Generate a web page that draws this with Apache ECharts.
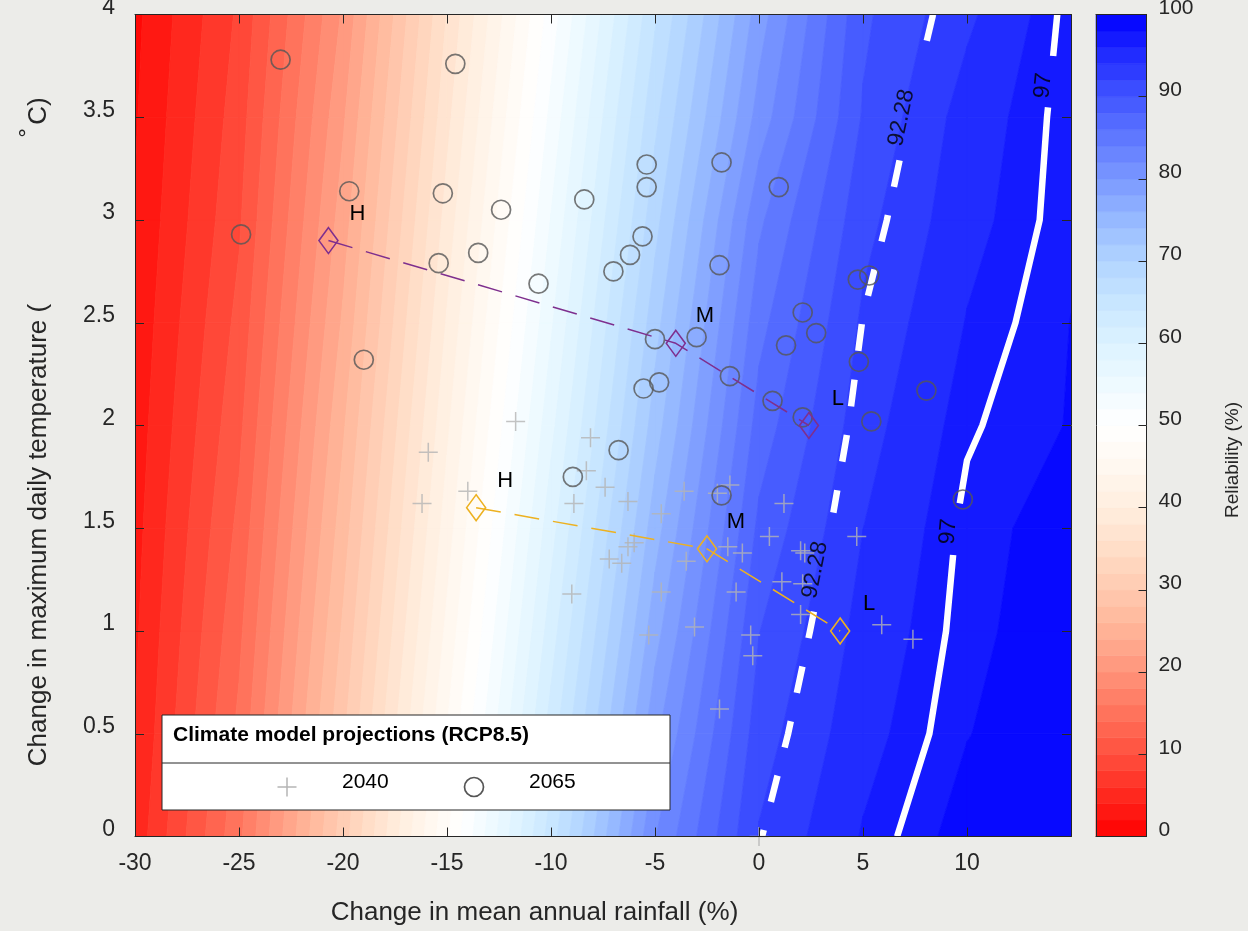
<!DOCTYPE html>
<html>
<head>
<meta charset="utf-8">
<script src="https://cdn.jsdelivr.net/npm/echarts@6/dist/echarts.min.js"></script>
<style>
html, body { margin: 0; padding: 0; background: #ecece9; }
#chart { width: 1248px; height: 931px; }
</style>
</head>
<body>
<div id="chart"></div>
<script>
// ---- reliability surface -------------------------------------------------
// change in mean annual rainfall (%) at the grid columns
const rainfallGrid = [-30, -25, -20, -15, -10, -5, 0, 5, 10, 15];
// change in maximum daily temperature (°C) at the grid rows
const temperatureGrid = [0, 0.5, 1, 1.5, 2, 2.5, 3, 3.5, 4];
// reliability (%) — one row per temperature step, one column per rainfall step
const reliabilityGrid = [
  [4.70, 15.5, 31.0, 47.7, 65.0, 81.9, 92.16, 96.16, 98.72, 99.50],
  [4.05, 14.5, 29.6, 46.1, 62.9, 79.5, 91.09, 95.34, 97.94, 99.20],
  [3.65, 13.5, 28.3, 44.5, 61.0, 77.2, 89.95, 94.70, 97.58, 99.00],
  [3.28, 12.5, 27.0, 43.0, 59.2, 75.1, 88.49, 93.99, 97.37, 98.80],
  [2.90, 11.5, 25.7, 41.6, 57.4, 73.0, 86.90, 93.15, 96.81, 98.10],
  [2.53, 10.6, 24.3, 40.2, 55.7, 71.2, 85.35, 92.35, 96.10, 98.03],
  [2.15, 9.70, 23.0, 38.8, 54.1, 69.3, 83.60, 91.35, 95.40, 97.69],
  [1.80, 9.05, 21.7, 37.4, 52.5, 67.5, 80.84, 90.20, 94.93, 97.62],
  [1.50, 8.36, 20.3, 36.1, 50.9, 65.7, 79.00, 89.60, 93.58, 97.52]
];
// filled-contour band edges (%)
const bandLevels = [0, 2, 4, 6, 8, 10, 12, 14, 16, 18, 20, 22, 24, 26, 28, 30, 32, 34, 36, 38, 40,
  42, 44, 46, 48, 50, 52, 54, 56, 58, 60, 62, 64, 66, 68, 70, 72, 74, 76, 78, 80,
  82, 84, 86, 88, 90, 92, 94, 96, 98, 100];
// highlighted reliability contours
const contourLevels = [92.28, 97];

// ---- axis ticks ----------------------------------------------------------
const rainfallTicks = [-30, -25, -20, -15, -10, -5, 0, 5, 10];
const temperatureTicks = [0, 0.5, 1, 1.5, 2, 2.5, 3, 3.5, 4];
const reliabilityTicks = [0, 10, 20, 30, 40, 50, 60, 70, 80, 90, 100];

// ---- climate model projections (RCP8.5) ----------------------------------
const rain2040 = [-11.7, -15.9, -8.1, -8.3, -14.0, -16.2, -7.4, -8.9, -6.3, -4.7,
  -3.6, -1.4, -2.0, 1.2, 0.5, -1.5, -0.8, 2.0, 2.2, 4.7,
  -6.0, -6.3, -7.2, -6.6, -3.5, -9.0, -4.7, -1.1, 1.1, 2.1,
  -5.3, -3.1, -0.4, -0.3, 2.0, 5.9, 7.4, -1.9, 0];
const temp2040 = [2.02, 1.87, 1.94, 1.78, 1.68, 1.62, 1.70, 1.62, 1.63, 1.57,
  1.68, 1.71, 1.67, 1.62, 1.46, 1.41, 1.38, 1.39, 1.38, 1.46,
  1.43, 1.41, 1.35, 1.33, 1.34, 1.18, 1.19, 1.19, 1.24, 1.23,
  0.98, 1.02, 0.98, 0.88, 1.08, 1.03, 0.96, 0.62, 0];
const rain2065 = [-23.0, -14.6, -24.9, -19.7, -15.2, -12.4, -8.4, -5.4, -5.4, -1.8,
  0.95, -15.4, -13.5, -10.6, -5.6, -6.2, -7.0, -1.9, -19.0, -5.0,
  -3.0, 2.1, 2.75, 1.3, -1.4, -4.8, -5.55, 0.65, 2.1, 4.8,
  4.75, 5.3, 5.4, 8.05, -8.95, -6.75, -1.8, 9.8];
const temp2065 = [3.78, 3.76, 2.93, 3.14, 3.13, 3.05, 3.10, 3.27, 3.16, 3.28,
  3.16, 2.79, 2.84, 2.69, 2.92, 2.83, 2.75, 2.78, 2.32, 2.42,
  2.43, 2.55, 2.45, 2.39, 2.24, 2.21, 2.18, 2.12, 2.04, 2.31,
  2.71, 2.73, 2.02, 2.17, 1.75, 1.88, 1.66, 1.64];

// high / medium / low change scenarios
const scenarioNames = ['H', 'M', 'L'];
const scenarioRain2040 = [-13.6, -2.5, 3.9];
const scenarioTemp2040 = [1.6, 1.4, 1.0];
const scenarioRain2065 = [-20.7, -4.0, 2.4];
const scenarioTemp2065 = [2.9, 2.4, 2.0];

// ---- layout & style --------------------------------------------------------
const FONT = "'Liberation Sans', Arial, Helvetica, sans-serif";
const INK = '#262626';
const plot = { left: 135, top: 14.5, width: 936, height: 822 };
const bar = { left: 1096, top: 14.5, width: 50.5, height: 822 };

// where the contour labels sit (temperature of label centre) and the stretch of line they interrupt
const contourLabelSpots = [
  { level: 92.28, y: 1.29, gap: [1.094, 1.576] },
  { level: 92.28, y: 3.49, gap: [3.29, 3.80] },
  { level: 97, y: 1.48, gap: [1.37, 1.621] },
  { level: 97, y: 3.65, gap: [3.548, 3.798] }
];

// red - white - blue scale: [reliability, r, g, b]
const colourStops = [
  [0, 255, 0, 0], [5, 255, 40, 30], [10, 255, 80, 62], [15, 255, 115, 92], [20, 255, 148, 122],
  [25, 255, 178, 150], [30, 255, 202, 176], [35, 255, 222, 200], [40, 255, 238, 222], [45, 255, 248, 240],
  [50, 255, 255, 255], [55, 238, 250, 255], [60, 220, 242, 255], [65, 200, 230, 255], [70, 178, 212, 255],
  [75, 150, 185, 255], [80, 122, 152, 255], [85, 95, 120, 255], [90, 65, 85, 255], [95, 33, 44, 255],
  [100, 0, 0, 255]
];
function colourAt(v) {
  for (let k = 0; k < colourStops.length - 1; k++) {
    const a = colourStops[k], b = colourStops[k + 1];
    if (v >= a[0] && v <= b[0]) {
      const t = (v - a[0]) / (b[0] - a[0]);
      const c = [1, 2, 3].map(i => Math.round(a[i] + t * (b[i] - a[i])));
      return 'rgb(' + c.join(',') + ')';
    }
  }
  return 'rgb(0,0,255)';
}
const bandColours = bandLevels.slice(0, -1).map((lo, k) => colourAt((lo + bandLevels[k + 1]) / 2));

// ---- filled contours: each grid cell split into band polygons ---------------
function isoband(corners, lo, hi) {
  const out = [];
  for (let e = 0; e < 4; e++) {
    const a = corners[e], b = corners[(e + 1) % 4];
    if (a[2] >= lo && a[2] <= hi) out.push([a[0], a[1]]);
    const ts = [];
    [lo, hi].forEach(L => {
      if ((a[2] - L) * (b[2] - L) < 0) ts.push((L - a[2]) / (b[2] - a[2]));
    });
    ts.sort((p, q) => p - q);
    ts.forEach(t => out.push([a[0] + t * (b[0] - a[0]), a[1] + t * (b[1] - a[1])]));
  }
  return out.length >= 3 ? out : null;
}

const fieldPolys = [];
for (let j = 0; j < temperatureGrid.length - 1; j++) {
  for (let i = 0; i < rainfallGrid.length - 1; i++) {
    const c = [
      [rainfallGrid[i], temperatureGrid[j], reliabilityGrid[j][i]],
      [rainfallGrid[i + 1], temperatureGrid[j], reliabilityGrid[j][i + 1]],
      [rainfallGrid[i + 1], temperatureGrid[j + 1], reliabilityGrid[j + 1][i + 1]],
      [rainfallGrid[i], temperatureGrid[j + 1], reliabilityGrid[j + 1][i]]
    ];
    const vs = c.map(p => p[2]);
    const vmin = Math.min.apply(null, vs), vmax = Math.max.apply(null, vs);
    for (let k = 0; k < bandLevels.length - 1; k++) {
      const lo = bandLevels[k], hi = bandLevels[k + 1];
      if (hi < vmin || lo > vmax) continue;
      const pts = isoband(c, lo, hi);
      if (pts) {
        const cx = pts.reduce((s, p) => s + p[0], 0) / pts.length;
        const cy = pts.reduce((s, p) => s + p[1], 0) / pts.length;
        fieldPolys.push({ band: k, pts: pts, centre: [cx, cy] });
      }
    }
  }
}

// ---- contour lines (edge crossings of the same grid) ------------------------
function contourPath(L) {
  const pts = [];
  for (let j = 0; j < temperatureGrid.length; j++) {
    const row = reliabilityGrid[j];
    for (let i = 0; i < row.length - 1; i++) {
      if ((row[i] - L) * (row[i + 1] - L) <= 0 && row[i] !== row[i + 1]) {
        const t = (L - row[i]) / (row[i + 1] - row[i]);
        pts.push([rainfallGrid[i] + t * (rainfallGrid[i + 1] - rainfallGrid[i]), temperatureGrid[j]]);
        break;
      }
    }
    if (j < temperatureGrid.length - 1) {
      const next = reliabilityGrid[j + 1];
      for (let i = 0; i < row.length; i++) {
        if ((row[i] - L) * (next[i] - L) < 0) {
          const t = (L - row[i]) / (next[i] - row[i]);
          pts.push([rainfallGrid[i], temperatureGrid[j] + t * (temperatureGrid[j + 1] - temperatureGrid[j])]);
        }
      }
    }
  }
  pts.sort((p, q) => q[1] - p[1]);   // from the top of the plot downwards
  return pts;
}

function splitByGaps(pts, gaps) {
  const pieces = [];
  let cur = [];
  const inGap = y => gaps.some(g => y > g[0] && y < g[1]);
  for (let k = 0; k < pts.length; k++) {
    const p = pts[k];
    if (k > 0) {
      const q = pts[k - 1];
      const bounds = [];
      gaps.forEach(g => g.forEach(yb => { if ((q[1] - yb) * (p[1] - yb) < 0) bounds.push(yb); }));
      bounds.sort((a, b) => b - a);
      bounds.forEach(yb => {
        const t = (yb - q[1]) / (p[1] - q[1]);
        const m = [q[0] + t * (p[0] - q[0]), yb];
        if (cur.length) { cur.push(m); pieces.push(cur); cur = []; }
        else { cur = [m]; }
      });
    }
    if (!inGap(p[1])) cur.push(p);
  }
  if (cur.length > 1) pieces.push(cur);
  return pieces;
}

const xMin = rainfallGrid[0], xMax = rainfallGrid[rainfallGrid.length - 1];
const yMin = temperatureGrid[0], yMax = temperatureGrid[temperatureGrid.length - 1];
const pxPerX = plot.width / (xMax - xMin);
const pxPerY = plot.height / (yMax - yMin);

const contourSeries = [];
const contourLabelData = [];
contourLevels.forEach((L, li) => {
  const path = contourPath(L);
  const spots = contourLabelSpots.filter(s => s.level === L);
  splitByGaps(path, spots.map(s => s.gap)).forEach(piece => {
    contourSeries.push({
      type: 'line', xAxisIndex: 0, yAxisIndex: 0, data: piece,
      symbol: 'none', silent: true, z: 3, animation: false,
      lineStyle: { color: '#ffffff', width: 6.5, cap: 'butt', join: 'miter',
        type: li === 0 ? [27, 29] : 'solid' }
    });
  });
  spots.forEach(s => {
    for (let k = 0; k < path.length - 1; k++) {
      const p = path[k], q = path[k + 1];
      if (s.y <= p[1] && s.y >= q[1]) {
        const t = (s.y - q[1]) / (p[1] - q[1]);
        const x = q[0] + t * (p[0] - q[0]);
        const ang = Math.atan2((p[1] - q[1]) * pxPerY, (p[0] - q[0]) * pxPerX);
        const lift = 7;
        contourLabelData.push({
          name: String(L),
          value: [x - Math.sin(ang) * lift / pxPerX, s.y + Math.cos(ang) * lift / pxPerY],
          label: { rotate: ang * 180 / Math.PI }
        });
        break;
      }
    }
  });
});

const zip = (xs, ys) => xs.map((x, i) => [x, ys[i]]);

const axisLineStyle = { color: INK, width: 1 };
const chart = echarts.init(document.getElementById('chart'));
chart.setOption({
  animation: false,
  backgroundColor: '#ecece9',
  textStyle: { fontFamily: FONT },
  grid: [
    { left: plot.left, top: plot.top, width: plot.width, height: plot.height,
      containLabel: false, outerBoundsMode: 'none' },
    { left: bar.left, top: bar.top, width: bar.width, height: bar.height,
      containLabel: false, outerBoundsMode: 'none' }
  ],
  xAxis: [
    { type: 'value', gridIndex: 0, position: 'bottom', min: xMin, max: xMax,
      interval: rainfallTicks[1] - rainfallTicks[0], z: 10,
      axisLine: { show: true, onZero: false, lineStyle: axisLineStyle },
      axisTick: { show: true, inside: true, length: 9, lineStyle: axisLineStyle },
      axisLabel: { show: true, fontSize: 23, color: INK, margin: 16, fontFamily: FONT,
        formatter: v => rainfallTicks.indexOf(v) >= 0 ? String(v) : '' },
      splitLine: { show: false } },
    { type: 'value', gridIndex: 0, position: 'top', min: xMin, max: xMax,
      interval: rainfallTicks[1] - rainfallTicks[0], z: 10,
      axisLine: { show: true, onZero: false, lineStyle: axisLineStyle },
      axisTick: { show: true, inside: true, length: 9, lineStyle: axisLineStyle },
      axisLabel: { show: false }, splitLine: { show: false } },
    { type: 'value', gridIndex: 1, position: 'bottom', min: 0, max: 1, z: 10,
      axisLine: { show: true, onZero: false, lineStyle: axisLineStyle },
      axisTick: { show: false }, axisLabel: { show: false }, splitLine: { show: false } },
    { type: 'value', gridIndex: 1, position: 'top', min: 0, max: 1, z: 10,
      axisLine: { show: true, onZero: false, lineStyle: axisLineStyle },
      axisTick: { show: false }, axisLabel: { show: false }, splitLine: { show: false } }
  ],
  yAxis: [
    { type: 'value', gridIndex: 0, position: 'left', min: yMin, max: yMax,
      interval: temperatureTicks[1] - temperatureTicks[0], z: 10,
      axisLine: { show: true, onZero: false, lineStyle: axisLineStyle },
      axisTick: { show: true, inside: true, length: 9, lineStyle: axisLineStyle },
      axisLabel: { show: true, fontSize: 23, color: INK, margin: 20, fontFamily: FONT,
        verticalAlign: 'bottom', lineHeight: 14,
        formatter: v => temperatureTicks.indexOf(v) >= 0 ? String(v) : '' },
      splitLine: { show: false } },
    { type: 'value', gridIndex: 0, position: 'right', min: yMin, max: yMax,
      interval: temperatureTicks[1] - temperatureTicks[0], z: 10,
      axisLine: { show: true, onZero: false, lineStyle: axisLineStyle },
      axisTick: { show: true, inside: true, length: 9, lineStyle: axisLineStyle },
      axisLabel: { show: false }, splitLine: { show: false } },
    { type: 'value', gridIndex: 1, position: 'right',
      min: reliabilityTicks[0], max: reliabilityTicks[reliabilityTicks.length - 1],
      interval: reliabilityTicks[1] - reliabilityTicks[0], z: 10,
      axisLine: { show: true, onZero: false, lineStyle: axisLineStyle },
      axisTick: { show: true, inside: true, length: 8, lineStyle: axisLineStyle },
      axisLabel: { show: true, fontSize: 21, color: INK, margin: 12, fontFamily: FONT,
        verticalAlign: 'bottom', lineHeight: 13 },
      splitLine: { show: false } },
    { type: 'value', gridIndex: 1, position: 'left', min: 0, max: 100, z: 10,
      axisLine: { show: true, onZero: false, lineStyle: axisLineStyle },
      axisTick: { show: false }, axisLabel: { show: false }, splitLine: { show: false } }
  ],
  series: [
    {
      type: 'custom', name: 'Reliability', xAxisIndex: 0, yAxisIndex: 0,
      silent: true, z: 1, clip: true, progressive: 0, animation: false,
      encode: { x: 0, y: 1 },
      data: fieldPolys.map(p => p.centre),
      renderItem: function (params, api) {
        const poly = fieldPolys[params.dataIndex];
        const c = bandColours[poly.band];
        return {
          type: 'polygon',
          shape: { points: poly.pts.map(p => api.coord(p)) },
          style: { fill: c, stroke: c, lineWidth: 0.8 }
        };
      }
    },
    {
      type: 'custom', name: 'Colour scale', xAxisIndex: 2, yAxisIndex: 2,
      silent: true, z: 1, progressive: 0, animation: false,
      encode: { x: 0, y: 1 },
      data: bandLevels.slice(0, -1).map((lo, k) => [0.5, (lo + bandLevels[k + 1]) / 2]),
      renderItem: function (params, api) {
        const k = params.dataIndex;
        const p0 = api.coord([0, bandLevels[k]]);
        const p1 = api.coord([1, bandLevels[k + 1]]);
        const c = bandColours[k];
        return {
          type: 'rect',
          shape: { x: p0[0], y: p1[1], width: p1[0] - p0[0], height: p0[1] - p1[1] },
          style: { fill: c, stroke: c, lineWidth: 0.6 }
        };
      }
    }
  ].concat(contourSeries).concat([
    {
      type: 'scatter', name: '2040', xAxisIndex: 0, yAxisIndex: 0, z: 4, silent: true,
      data: zip(rain2040, temp2040),
      symbol: 'path://M0,10L20,10M10,0L10,20', symbolSize: 19,
      itemStyle: { color: 'rgba(0,0,0,0)', borderColor: '#b4b4b4', borderWidth: 1.5 }
    },
    {
      type: 'scatter', name: '2065', xAxisIndex: 0, yAxisIndex: 0, z: 5, silent: true,
      data: zip(rain2065, temp2065),
      symbol: 'circle', symbolSize: 19,
      itemStyle: { color: 'rgba(0,0,0,0)', borderColor: '#565656', borderWidth: 1.7 }
    },
    {
      type: 'line', name: '2065 scenarios', xAxisIndex: 0, yAxisIndex: 0, z: 6, silent: true,
      data: zip(scenarioRain2065, scenarioTemp2065),
      showSymbol: true, symbol: 'diamond', symbolSize: [19, 26],
      itemStyle: { color: 'rgba(0,0,0,0)', borderColor: '#7e2f8e', borderWidth: 1.6 },
      lineStyle: { color: '#7e2f8e', width: 1.5, type: [25, 14] },
      label: { show: true, position: 'inside', offset: [29, -27], fontSize: 22, color: '#000',
        fontFamily: FONT, formatter: p => scenarioNames[p.dataIndex] }
    },
    {
      type: 'line', name: '2040 scenarios', xAxisIndex: 0, yAxisIndex: 0, z: 6, silent: true,
      data: zip(scenarioRain2040, scenarioTemp2040),
      showSymbol: true, symbol: 'diamond', symbolSize: [19, 26],
      itemStyle: { color: 'rgba(0,0,0,0)', borderColor: '#edb120', borderWidth: 1.6 },
      lineStyle: { color: '#edb120', width: 1.5, type: [25, 14] },
      label: { show: true, position: 'inside', offset: [29, -27], fontSize: 22, color: '#000',
        fontFamily: FONT, formatter: p => scenarioNames[p.dataIndex] }
    },
    {
      type: 'scatter', name: 'Contour labels', xAxisIndex: 0, yAxisIndex: 0, z: 7, silent: true,
      data: contourLabelData, symbolSize: 1,
      itemStyle: { color: 'rgba(0,0,0,0)' },
      label: { show: true, position: 'inside', formatter: '{b}', fontSize: 23, color: '#000',
        fontFamily: FONT }
    }
  ]),
  graphic: [
    { type: 'text', x: 534.5, y: 913, z: 20, silent: true,
      style: { text: 'Change in mean annual rainfall (%)', font: '26px ' + FONT, fill: INK,
        align: 'center', verticalAlign: 'middle' } },
    { type: 'text', x: 39, y: 535, rotation: Math.PI / 2, z: 20, silent: true,
      style: { text: 'Change in maximum daily temperature (', font: '26px ' + FONT, fill: INK,
        align: 'center', verticalAlign: 'middle' } },
    { type: 'text', x: 28, y: 133, rotation: Math.PI / 2, z: 20, silent: true,
      style: { text: '°', font: '24px ' + FONT, fill: INK, align: 'center', verticalAlign: 'middle' } },
    { type: 'text', x: 39, y: 111, rotation: Math.PI / 2, z: 20, silent: true,
      style: { text: 'C)', font: '26px ' + FONT, fill: INK, align: 'center', verticalAlign: 'middle' } },
    { type: 'text', x: 1233, y: 460, rotation: Math.PI / 2, z: 20, silent: true,
      style: { text: 'Reliability (%)', font: '19px ' + FONT, fill: INK,
        align: 'center', verticalAlign: 'middle' } },
    // legend box
    { type: 'rect', z: 100, silent: true, shape: { x: 162, y: 715, width: 508, height: 95 },
      style: { fill: '#ffffff', stroke: INK, lineWidth: 1 } },
    { type: 'line', z: 101, silent: true, shape: { x1: 162, y1: 763, x2: 670, y2: 763 },
      style: { stroke: INK, lineWidth: 1 } },
    { type: 'text', z: 101, silent: true, x: 173, y: 735,
      style: { text: 'Climate model projections (RCP8.5)', font: 'bold 21px ' + FONT, fill: '#000',
        align: 'left', verticalAlign: 'middle' } },
    { type: 'line', z: 101, silent: true, shape: { x1: 277.5, y1: 787, x2: 296.5, y2: 787 },
      style: { stroke: '#b4b4b4', lineWidth: 1.5 } },
    { type: 'line', z: 101, silent: true, shape: { x1: 287, y1: 777.5, x2: 287, y2: 796.5 },
      style: { stroke: '#b4b4b4', lineWidth: 1.5 } },
    { type: 'text', z: 101, silent: true, x: 342, y: 782,
      style: { text: '2040', font: '21px ' + FONT, fill: '#000', align: 'left', verticalAlign: 'middle' } },
    { type: 'circle', z: 101, silent: true, shape: { cx: 474, cy: 787, r: 9.5 },
      style: { fill: 'rgba(0,0,0,0)', stroke: '#565656', lineWidth: 1.7 } },
    { type: 'text', z: 101, silent: true, x: 529, y: 782,
      style: { text: '2065', font: '21px ' + FONT, fill: '#000', align: 'left', verticalAlign: 'middle' } }
  ]
});
</script>
</body>
</html>
